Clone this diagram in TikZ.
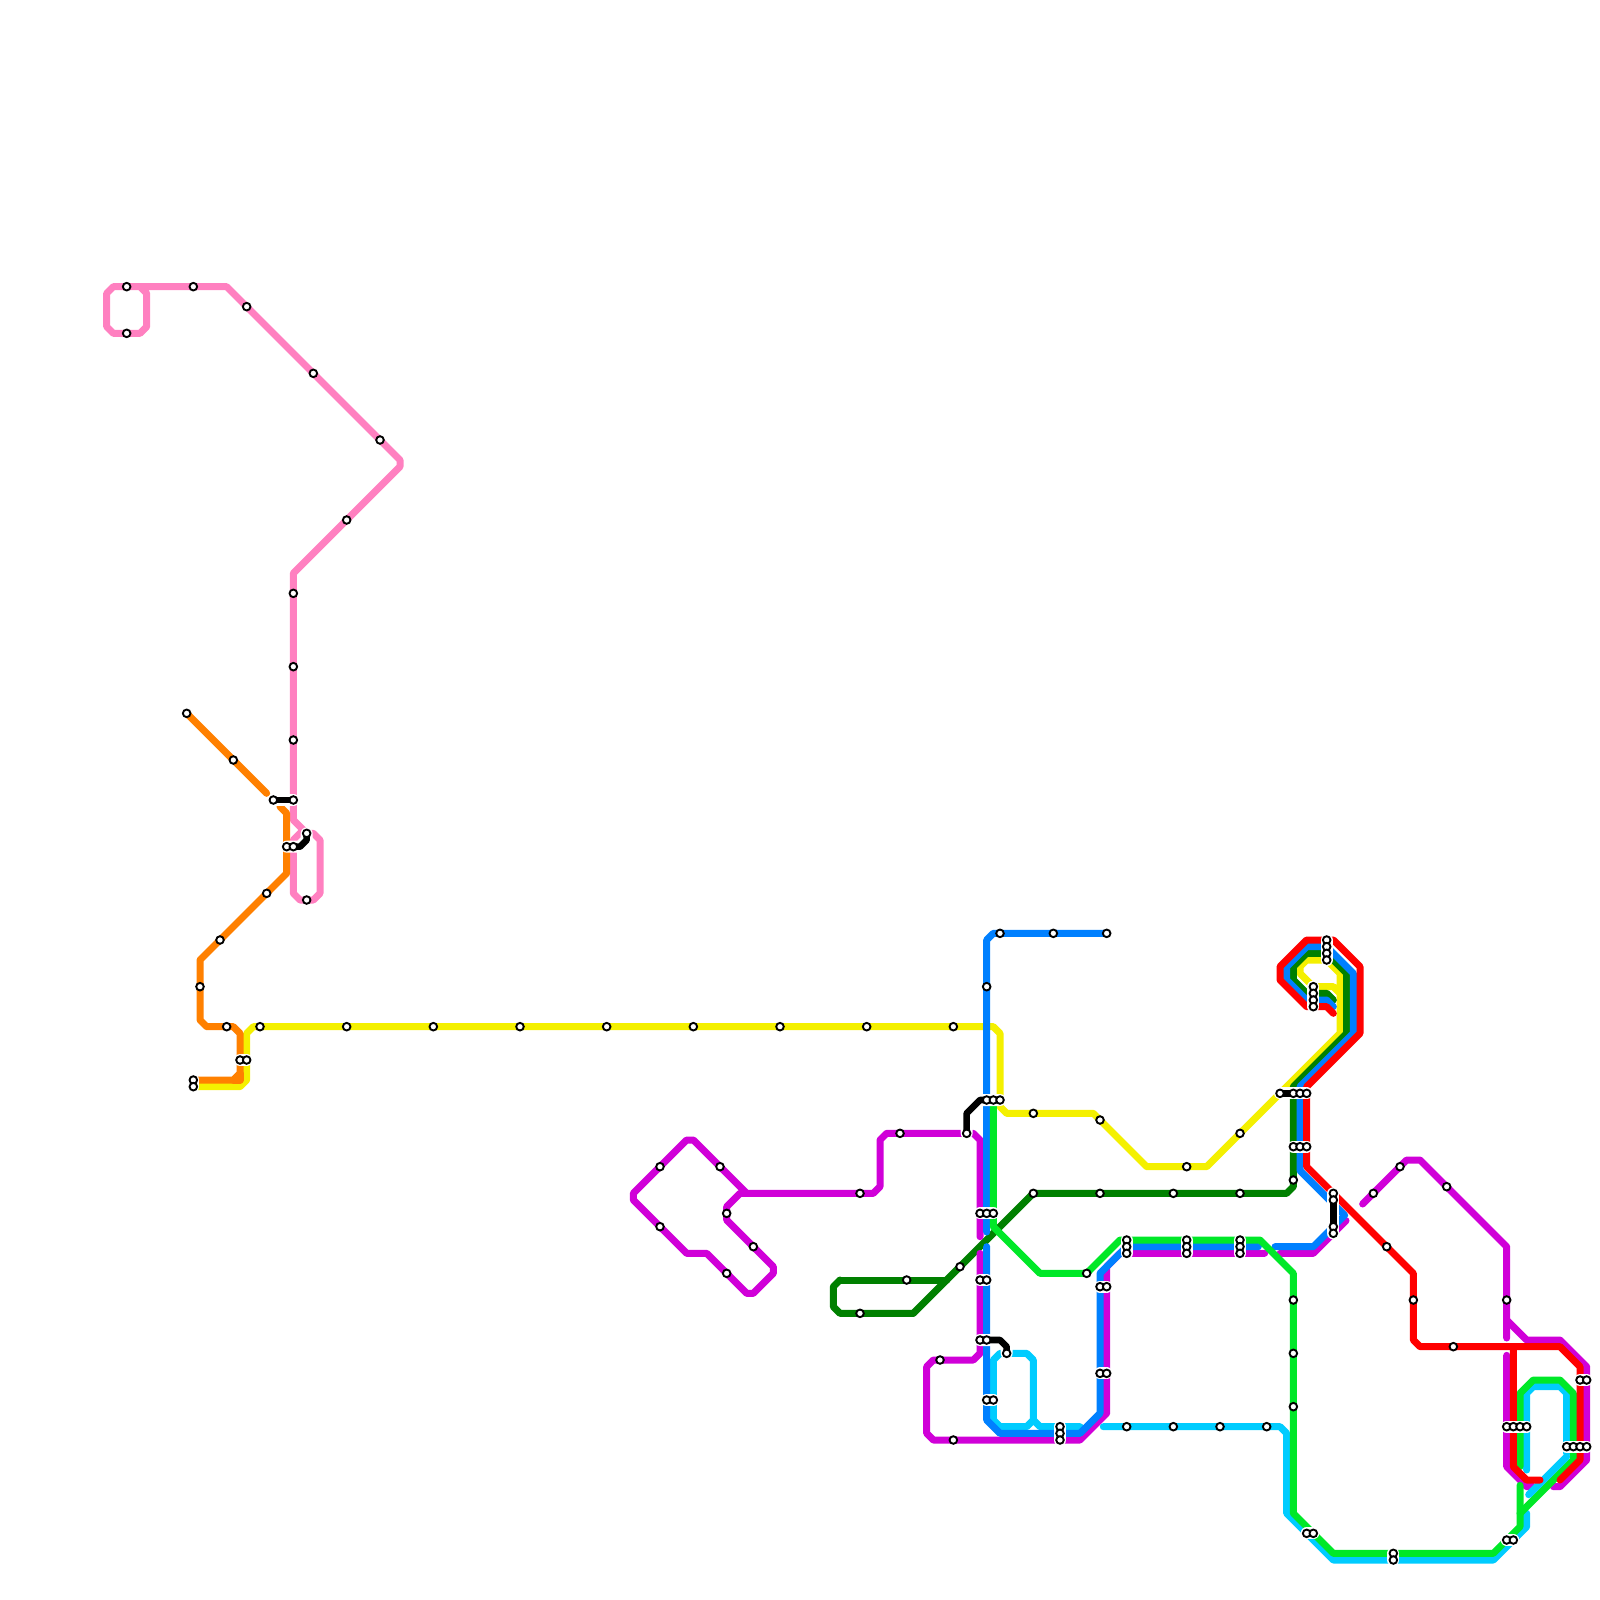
\documentclass[tikz,border=0pt]{standalone}
\pgfdeclarelayer{lines}
\pgfdeclarelayer{links}
\pgfsetlayers{lines,links,main}
\definecolor{cPink}{HTML}{FF80C0}
\definecolor{cOrange}{HTML}{FF8000}
\definecolor{cYellow}{HTML}{F4F000}
\definecolor{cBlue}{HTML}{0080FF}
\definecolor{cDark}{HTML}{008000}
\definecolor{cGreen}{HTML}{00E828}
\definecolor{cPurple}{HTML}{D000D8}
\definecolor{cRed}{HTML}{FF0000}
\definecolor{cCyan}{HTML}{00CCFF}
\tikzset{
 metro/.style={line width=0.07cm,line cap=round,line join=round},
 pinkline/.style={metro,draw=cPink},
 orangeline/.style={metro,draw=cOrange},
 yellowline/.style={metro,draw=cYellow},
 blueline/.style={metro,draw=cBlue},
 darkline/.style={metro,draw=cDark},
 greenline/.style={metro,draw=cGreen},
 purpleline/.style={metro,draw=cPurple},
 redline/.style={metro,draw=cRed},
 cyanline/.style={metro,draw=cCyan},
 link/.style={draw=black,line width=0.066cm,line cap=round,line join=round,
   preaction={draw=white,line width=0.12cm,line cap=round,line join=round}},
 stn/.style={circle,draw=black,fill=white,line width=0.019cm,inner sep=0pt,minimum size=0.076cm}
}
\begin{document}
\begin{tikzpicture}[x=1cm/15,y=-1cm/15]
\useasboundingbox (0,0) rectangle (240,240);
\foreach \x/\y in {19/43,19/50,29/43,37/46,47/56,57/66,52/78,44/89,44/100,44/111,44/120,41/120,43/127,44/127,46/125,46/135,
 28/107,35/114,40/134,33/141,30/148,34/154,36/159,37/159,29/162,29/163,
 39/154,52/154,65/154,78/154,91/154,104/154,117/154,130/154,143/154,155/167,165/168,178/175,186/170,
 150/140,158/140,166/140,148/148,148/165,149/165,150/165,147/182,148/182,149/182,147/192,148/192,147/201,148/201,148/210,149/210,
 99/175,99/184,108/175,109/182,113/187,109/191,129/179,135/170,145/170,141/204,143/216,159/214,159/215,159/216,165/193,166/193,165/206,166/206,
 163/191,169/186,169/187,169/188,178/186,178/187,178/188,186/186,186/187,186/188,155/179,165/179,176/179,186/179,194/177,129/197,136/192,144/190,151/203,
 169/214,176/214,183/214,190/214,194/195,194/203,194/211,
 192/164,194/164,195/164,196/164,194/172,195/172,196/172,199/141,199/142,199/143,199/144,197/148,197/149,197/150,197/151,
 200/179,200/180,200/184,200/185,206/179,210/175,217/178,208/187,212/195,218/202,226/195,
 226/214,227/214,228/214,229/214,235/217,236/217,237/217,238/217,237/207,238/207,196/230,197/230,226/231,227/231,209/233,209/234}
 \node[stn] (s\x-\y) at (\x,\y) {};
\begin{pgfonlayer}{lines}
% pink
\draw[pinkline] (21,43)--(22,44)--(22,49)--(21,50)--(17,50)--(16,49)--(16,44)--(17,43)--(34,43)--(60,69)--(60,70)--(44,86)--(44,123)--(45.5,124.5)--(44,126)--(44,134)--(45,135)--(47,135)--(48,134)--(48,126)--(47,125)--(46,125);
% orange yellow
\draw[yellowline] (29,163)--(36,163)--(37,162)--(37,155)--(38,154)--(149,154)--(150,155)--(150,166)--(151,167)--(164,167)--(172,175)--(181,175)--(201,155)--(201,146)--(199,144)--(196,144)--(195,145)--(195,146)--(197,148)--(200,148)--(201,149);
\draw[orangeline] (28,107)--(40,119);
\draw[orangeline] (42,121)--(43,122)--(43,131)--(30,144)--(30,153)--(31,154)--(35,154)--(36,155)--(36,161)--(35,162)--(29,162);
\draw[orangeline] (36,161)--(36,162)--(35,162);
% dark green
\draw[darkline] (126,192)--(142,192);
\draw[darkline] (137,197)--(126,197)--(125,196)--(125,193)--(126,192);
\draw[darkline] (137,197)--(155,179)--(193,179)--(194,178)--(194,163)--(202,155)--(202,146)--(199,143)--(196,143)--(194,145)--(194,147)--(196,149)--(199,149)--(200,150);
% purple
\draw[purpleline] (147,185.5)--(147,171)--(146,170)--(133,170)--(132,171)--(132,178)--(131,179)--(112,179)--(104,171)--(103,171)--(95,179)--(95,180)--(103,188)--(106,188)--(112,194)--(113,194)--(116,191)--(116,190)--(109,183)--(109,181)--(111,179)--(112,179);
\draw[purpleline] (147,188)--(147,203)--(146,204)--(140,204)--(139,205)--(139,215)--(140,216)--(162,216)--(166,212)--(166,190)--(168,188)--(189.7,188);
\draw[purpleline] (192,188)--(197,188)--(201.9,183.1);
\draw[purpleline] (204.4,180.6)--(211,174)--(213,174)--(226,187)--(226,200.7);
\draw[purpleline] (226,198)--(229,201)--(234,201)--(238,205)--(238,219)--(234,223)--(233,223);
\draw[purpleline] (226,203.3)--(226,220)--(229,223)--(230,223);
% cyan
\draw[cyanline] (165.5,214)--(192,214)--(193,215)--(193,227)--(200,234)--(224,234)--(229,229)--(229,227);
\draw[cyanline] (162,214)--(156,214)--(155,213)--(155,204)--(154,203)--(150,203)--(149,204)--(149,213)--(150,214)--(154,214)--(155,213);
\draw[cyanline] (229,220.5)--(229,209)--(230,208)--(234,208)--(235,209)--(235,218);
% blue
\draw[blueline] (166,140)--(149,140)--(148,141)--(148,184.8);
\draw[blueline] (148,187)--(148,213)--(150,215)--(162,215)--(165,212)--(165,191)--(169,187)--(188.75,187);
\draw[blueline] (191.25,187)--(197,187)--(201.7,182.3)--(195,175.6)--(195,163)--(203,155)--(203,146)--(199,142)--(196,142)--(193,145)--(193,147)--(196,150)--(199,150)--(200,151);
% bright green
\draw[greenline] (149,165)--(149,184)--(156,191)--(163,191)--(168,186)--(189,186)--(194,191)--(194,227)--(200,233)--(224,233)--(228,229)--(228,222.8);
\draw[greenline] (228,220)--(228,209)--(230,207)--(234,207)--(236,209)--(236,219)--(228,227);
% cyan over green
\draw[cyanline] (235,218.5)--(229.3,224.2);
% red
\draw[redline] (200,152)--(199,151)--(196,151)--(192,147)--(192,145)--(196,141)--(200,141)--(204,145)--(204,155)--(196,163)--(196,175)--(212,191)--(212,201)--(213,202)--(234,202)--(237,205)--(237,219)--(234,222);
\draw[redline] (227,202)--(227,220)--(229,222)--(231,222);
\draw[redline] (226,202)--(228,202);
\end{pgfonlayer}
\begin{pgfonlayer}{links}
\draw[link] (s41-120.center)--(s44-120.center);
\draw[link] (s43-127.center)--(45,127)--(46,126)--(s46-125.center);
\draw[link] (s36-159.center)--(s37-159.center);
\draw[link] (s29-162.center)--(s29-163.center);
\draw[link] (s145-170.center)--(145,167)--(147,165)--(s150-165.center);
\draw[link] (s147-182.center)--(s149-182.center);
\draw[link] (s147-192.center)--(s148-192.center);
\draw[link] (s147-201.center)--(150,201)--(151,202)--(s151-203.center);
\draw[link] (s148-210.center)--(s149-210.center);
\draw[link] (s159-214.center)--(s159-216.center);
\draw[link] (s165-193.center)--(s166-193.center);
\draw[link] (s165-206.center)--(s166-206.center);
\draw[link] (s169-186.center)--(s169-188.center);
\draw[link] (s178-186.center)--(s178-188.center);
\draw[link] (s186-186.center)--(s186-188.center);
\draw[link] (s192-164.center)--(s196-164.center);
\draw[link] (s194-172.center)--(s196-172.center);
\draw[link] (s199-141.center)--(s199-144.center);
\draw[link] (s197-148.center)--(s197-151.center);
\draw[link] (s200-179.center)--(s200-185.center);
\draw[link] (s196-230.center)--(s197-230.center);
\draw[link] (s226-231.center)--(s227-231.center);
\draw[link] (s209-233.center)--(s209-234.center);
\draw[link] (s226-214.center)--(s229-214.center);
\draw[link] (s235-217.center)--(s238-217.center);
\draw[link] (s237-207.center)--(s238-207.center);
\end{pgfonlayer}
\end{tikzpicture}
\end{document}
